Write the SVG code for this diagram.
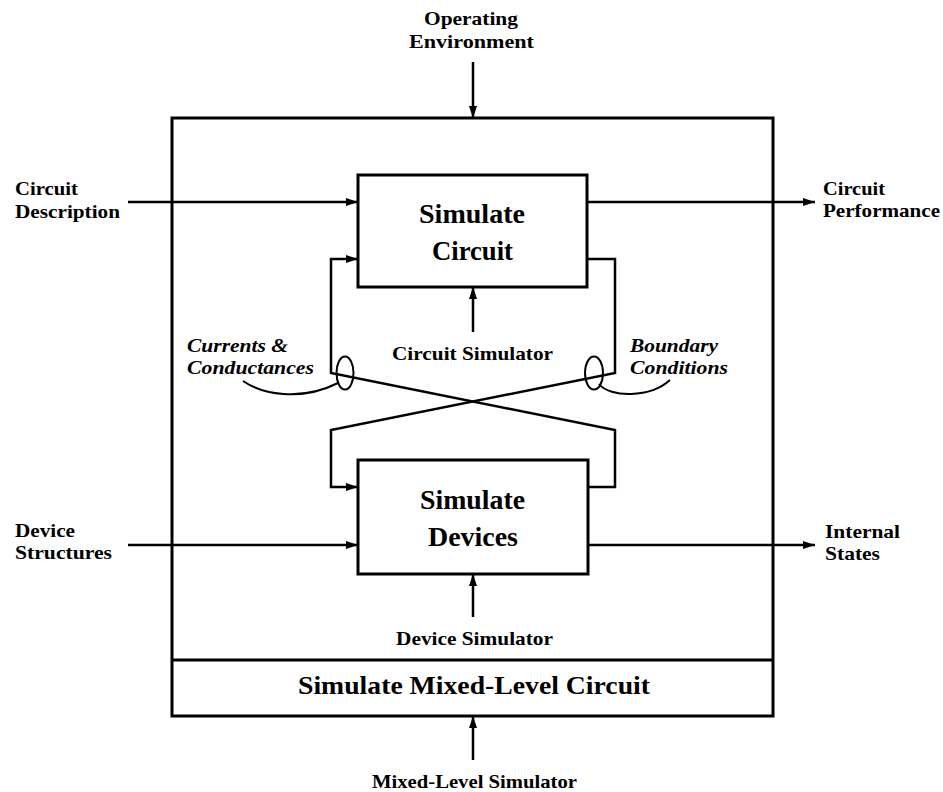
<svg xmlns="http://www.w3.org/2000/svg" width="943" height="792" viewBox="0 0 943 792">
  <defs>
    <marker id="arrow" viewBox="0 0 12 8" refX="12" refY="4" markerWidth="12" markerHeight="8" markerUnits="userSpaceOnUse" orient="auto">
      <path d="M0,0 L12,4 L0,8 Z" fill="#000"/>
    </marker>
    <style>
      .box { fill: #fff; stroke: #000; stroke-width: 3; }
      .line { fill: none; stroke: #000; stroke-width: 2.5; }
      .thin { fill: none; stroke: #000; stroke-width: 2; }
      .lbl { font-family: "Liberation Serif", "Times New Roman", serif; font-weight: bold; font-size: 19px; fill: #000; }
      .ital { font-family: "Liberation Serif", "Times New Roman", serif; font-weight: bold; font-style: italic; font-size: 19px; fill: #000; }
      .big { font-family: "Liberation Serif", "Times New Roman", serif; font-weight: bold; font-size: 27px; fill: #000; }
      .mid { font-family: "Liberation Serif", "Times New Roman", serif; font-weight: bold; font-size: 25px; fill: #000; }
    </style>
  </defs>
  <rect width="943" height="792" fill="#fff"/>

  <!-- enclosing activity: Simulate Mixed-Level Circuit -->
  <g id="mixed-level">
    <rect class="box" x="172" y="118" width="601" height="598"/>
    <line class="box" x1="172" y1="660" x2="773" y2="660"/>
    <text class="mid" x="298" y="694" textLength="352" lengthAdjust="spacingAndGlyphs">Simulate Mixed-Level Circuit</text>
  </g>

  <!-- inner activity: Simulate Circuit -->
  <g id="simulate-circuit">
    <rect class="box" x="358" y="175" width="229" height="112"/>
    <text class="big" x="419" y="223" textLength="106" lengthAdjust="spacingAndGlyphs">Simulate</text>
    <text class="big" x="432" y="260" textLength="81" lengthAdjust="spacingAndGlyphs">Circuit</text>
  </g>

  <!-- inner activity: Simulate Devices -->
  <g id="simulate-devices">
    <rect class="box" x="358" y="460" width="230" height="114"/>
    <text class="big" x="420" y="509" textLength="105" lengthAdjust="spacingAndGlyphs">Simulate</text>
    <text class="big" x="428" y="546" textLength="90" lengthAdjust="spacingAndGlyphs">Devices</text>
  </g>

  <!-- connectors -->
  <g id="connectors">
    <line class="line" x1="473" y1="62" x2="473" y2="118" marker-end="url(#arrow)"/>
    <line class="line" x1="128" y1="202" x2="358" y2="202" marker-end="url(#arrow)"/>
    <line class="line" x1="587" y1="202" x2="815" y2="202" marker-end="url(#arrow)"/>
    <line class="line" x1="128" y1="545" x2="358" y2="545" marker-end="url(#arrow)"/>
    <line class="line" x1="588" y1="545" x2="815" y2="545" marker-end="url(#arrow)"/>
    <line class="line" x1="473" y1="332" x2="473" y2="287" marker-end="url(#arrow)"/>
    <line class="line" x1="473" y1="617" x2="473" y2="574" marker-end="url(#arrow)"/>
    <line class="line" x1="473" y1="760" x2="473" y2="716" marker-end="url(#arrow)"/>
    <!-- boundary conditions: circuit to devices -->
    <polyline class="line" points="587,259 615,259 615,373 331,430 331,487 358,487" marker-end="url(#arrow)"/>
    <!-- currents and conductances: devices to circuit -->
    <polyline class="line" points="588,487 615,487 615,430 331,373 331,259 358,259" marker-end="url(#arrow)"/>
    <!-- label callouts -->
    <ellipse class="thin" cx="345" cy="373" rx="8.5" ry="16.5"/>
    <path class="thin" d="M243,381 C262,394 300,402 338,383"/>
    <ellipse class="thin" cx="594" cy="373" rx="9" ry="16.5"/>
    <path class="thin" d="M599,384 C610,398 650,398 670,380"/>
  </g>

  <!-- external labels -->
  <g id="operating-environment">
    <text class="lbl" x="424" y="25" textLength="94" lengthAdjust="spacingAndGlyphs">Operating</text>
    <text class="lbl" x="409" y="48" textLength="125" lengthAdjust="spacingAndGlyphs">Environment</text>
  </g>
  <g id="circuit-description">
    <text class="lbl" x="15" y="195" textLength="63" lengthAdjust="spacingAndGlyphs">Circuit</text>
    <text class="lbl" x="15" y="218" textLength="105" lengthAdjust="spacingAndGlyphs">Description</text>
  </g>
  <g id="circuit-performance">
    <text class="lbl" x="823" y="195" textLength="62" lengthAdjust="spacingAndGlyphs">Circuit</text>
    <text class="lbl" x="823" y="217" textLength="117" lengthAdjust="spacingAndGlyphs">Performance</text>
  </g>
  <g id="device-structures">
    <text class="lbl" x="15" y="537" textLength="60" lengthAdjust="spacingAndGlyphs">Device</text>
    <text class="lbl" x="15" y="559" textLength="97" lengthAdjust="spacingAndGlyphs">Structures</text>
  </g>
  <g id="internal-states">
    <text class="lbl" x="825" y="538" textLength="75" lengthAdjust="spacingAndGlyphs">Internal</text>
    <text class="lbl" x="825" y="560" textLength="55" lengthAdjust="spacingAndGlyphs">States</text>
  </g>
  <g id="circuit-simulator">
    <text class="lbl" x="392" y="360" textLength="161" lengthAdjust="spacingAndGlyphs">Circuit Simulator</text>
  </g>
  <g id="device-simulator">
    <text class="lbl" x="396" y="645" textLength="157" lengthAdjust="spacingAndGlyphs">Device Simulator</text>
  </g>
  <g id="mixed-level-simulator">
    <text class="lbl" x="372" y="788" textLength="205" lengthAdjust="spacingAndGlyphs">Mixed-Level Simulator</text>
  </g>
  <g id="currents-conductances">
    <text class="ital" x="187" y="352" textLength="101" lengthAdjust="spacingAndGlyphs">Currents &amp;</text>
    <text class="ital" x="187" y="374" textLength="127" lengthAdjust="spacingAndGlyphs">Conductances</text>
  </g>
  <g id="boundary-conditions">
    <text class="ital" x="630" y="352" textLength="88" lengthAdjust="spacingAndGlyphs">Boundary</text>
    <text class="ital" x="630" y="374" textLength="98" lengthAdjust="spacingAndGlyphs">Conditions</text>
  </g>
</svg>
